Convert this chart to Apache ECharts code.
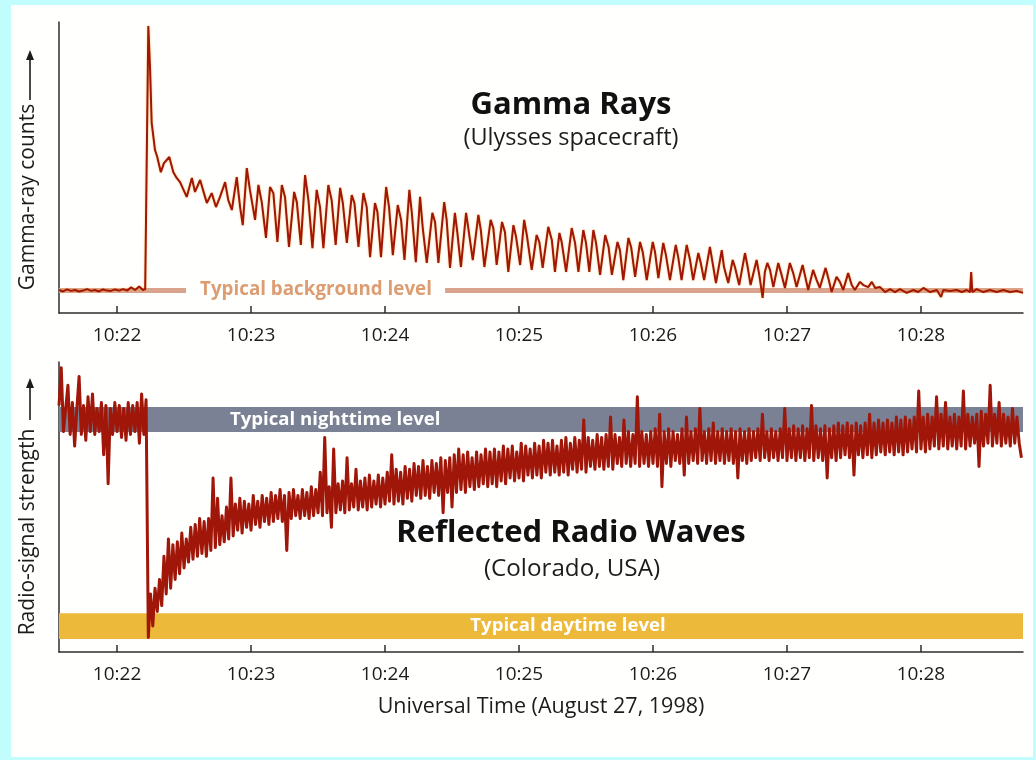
<!DOCTYPE html>
<html>
<head>
<meta charset="utf-8">
<script src="https://cdn.jsdelivr.net/npm/echarts@6/dist/echarts.min.js"></script>
<style>
  html, body { margin: 0; padding: 0; background: #c2fdfd; }
  #sheet { position: absolute; left: 11px; top: 5px; width: 1022px; height: 752px; background: #fffffd; }
  #chart { position: absolute; left: 0; top: 0; width: 1036px; height: 760px; }
</style>
</head>
<body>
<div id="sheet"></div>
<div id="chart"></div>
<script>
// Time is in seconds after 10:21:00 UT, August 27, 1998.
const timeStart = 34;
const timeEnd = 465.7;
const tickMinutes = [22, 23, 24, 25, 26, 27, 28];   // labelled minutes past 10:00

// Ulysses gamma-ray counts (arbitrary units, 0-100), [seconds, counts]
const gammaSamples = [
  [34.0,7.9],[35.8,7.4],[37.6,8.1],[39.4,7.6],[41.2,7.9],[43.0,7.4],[44.8,7.7],[46.6,8.2],[48.4,7.6],[50.1,7.9],
  [51.9,7.4],[53.7,8.1],[55.5,7.7],[57.3,7.6],[59.1,8.1],[60.9,7.7],[62.7,8.2],[64.5,7.7],[66.3,8.8],[68.1,7.9],
  [69.9,9.1],[71.6,7.9],[72.6,8.2],[74.0,98.6],[74.8,83.5],[75.5,65.3],[77.0,56.0],[78.0,53.6],[79.6,48.4],[81.0,51.5],
  [83.4,53.6],[85.2,48.4],[86.7,46.4],[88.2,45.0],[91.2,39.9],[93.5,46.4],[94.9,41.6],[97.2,45.7],[99.4,39.9],[100.2,37.8],
  [102.4,41.2],[104.3,36.4],[106.1,39.9],[108.4,45.0],[109.8,38.8],[111.4,35.4],[113.6,46.7],[115.1,36.4],[116.3,30.2],[118.1,49.8],
  [119.5,42.3],[121.8,32.0],[123.3,44.0],[124.8,38.1],[126.7,25.8],[128.5,43.3],[130.0,41.2],[131.8,24.4],[133.8,44.0],[135.2,39.9],
  [137.0,22.7],[139.3,41.6],[140.5,38.1],[142.3,23.4],[144.2,47.4],[145.7,38.8],[147.5,22.3],[149.4,42.3],[150.9,36.4],[152.4,22.3],
  [154.6,44.0],[156.1,38.8],[157.9,23.4],[159.9,43.0],[161.1,37.8],[162.9,24.1],[165.1,40.5],[166.3,37.8],[168.1,22.7],[170.3,41.2],
  [171.8,36.4],[173.3,19.2],[175.5,37.8],[176.6,34.7],[178.2,19.2],[180.5,43.3],[181.8,36.4],[183.5,19.9],[185.7,37.1],[187.2,32.0],
  [188.7,18.2],[190.9,42.3],[192.0,34.4],[193.8,17.5],[195.7,39.9],[196.9,29.2],[198.7,17.2],[201.2,34.4],[202.4,31.3],[203.9,17.2],
  [206.5,38.1],[207.6,32.0],[209.1,15.5],[211.3,34.4],[212.4,27.5],[214.0,15.8],[216.3,34.4],[217.3,29.2],[219.3,18.2],[221.8,33.7],
  [222.9,28.5],[224.5,15.8],[227.3,32.0],[228.5,29.2],[230.0,16.5],[232.4,31.3],[233.7,27.8],[235.2,14.1],[237.5,30.2],[238.7,26.1],
  [240.5,16.5],[242.3,32.0],[243.5,26.8],[245.7,14.8],[247.9,26.8],[249.1,24.4],[250.6,15.5],[253.1,29.6],[254.7,25.1],[256.1,14.1],
  [258.1,27.5],[259.1,24.4],[261.1,14.1],[263.6,29.2],[265.1,24.1],[266.6,14.1],[268.8,28.5],[270.0,24.1],[271.5,14.1],[273.3,28.5],
  [274.5,24.1],[276.3,13.1],[278.6,26.8],[280.1,22.7],[281.6,13.1],[284.1,24.4],[285.2,21.6],[286.7,11.3],[289.0,25.8],[290.2,22.7],
  [292.0,12.4],[294.2,24.4],[295.4,21.0],[297.2,11.3],[299.9,24.4],[300.9,21.0],[302.4,12.0],[304.6,24.1],[305.8,19.9],[307.6,11.3],
  [310.2,23.4],[311.3,19.2],[312.8,11.3],[315.1,23.4],[316.6,18.2],[318.0,11.3],[320.3,20.6],[321.4,17.2],[322.9,11.3],[325.5,22.7],
  [326.7,17.2],[328.2,10.3],[330.8,21.6],[331.8,15.8],[333.7,10.3],[335.7,18.2],[336.7,15.8],[338.6,9.6],[341.2,20.6],[342.4,15.8],
  [343.7,9.6],[346.4,18.2],[347.6,13.1],[349.1,5.2],[350.1,14.1],[351.2,17.2],[352.4,14.8],[353.9,8.9],[356.1,17.2],[357.6,13.1],
  [359.1,8.6],[361.3,17.2],[362.8,13.7],[364.3,8.9],[367.0,16.5],[368.0,13.1],[369.5,7.9],[371.7,14.8],[373.3,11.3],[374.7,8.6],
  [377.3,15.5],[378.5,12.0],[380.0,7.2],[382.2,12.4],[383.7,10.7],[385.2,7.9],[387.4,13.7],[389.0,9.6],[390.4,7.9],[392.7,10.7],
  [394.2,9.6],[396.4,8.9],[398.0,10.7],[399.5,8.6],[401.7,8.9],[403.9,7.2],[406.2,8.2],[408.4,7.2],[410.6,8.2],[413.6,6.9],
  [416.6,7.9],[418.8,7.2],[421.1,8.6],[424.1,7.2],[427.1,7.9],[429.0,5.5],[430.0,7.9],[433.0,7.6],[436.0,7.9],[438.3,7.2],
  [440.5,7.9],[442.0,7.2],[442.5,14.1],[443.0,7.2],[445.0,8.2],[447.9,7.2],[450.9,7.9],[453.9,7.2],[456.9,7.9],[459.9,7.2],
  [462.9,7.6],[465.7,6.9]
];
const backgroundLevel = 7.9;
const backgroundGap = [90.9, 206.9];   // where the level line breaks for its caption

// Reflected radio signal strength (arbitrary units, 0-100), one reading per second from radioStart
const radioStart = 34;
const radioStep = 1;
const radioStrength = [
  85, 98, 76, 84, 92, 75, 86, 71, 84, 95,
  75, 85, 73, 88, 76, 89, 75, 84, 76, 86,
  68, 85, 58, 84, 75, 86, 76, 85, 74, 84,
  73, 86, 75, 85, 76, 86, 72, 89, 75, 87,
  5, 20, 9, 22, 14, 25, 16, 33, 20, 39,
  22, 37, 25, 38, 27, 41, 29, 39, 31, 43,
  32, 44, 33, 46, 34, 45, 33, 46, 35, 60,
  36, 53, 37, 47, 38, 50, 39, 60, 40, 51,
  42, 53, 41, 52, 43, 51, 42, 54, 44, 52,
  43, 54, 45, 53, 44, 55, 45, 54, 46, 56,
  45, 54, 35, 55, 46, 56, 47, 54, 46, 56,
  47, 55, 46, 57, 47, 56, 48, 62, 47, 74,
  48, 57, 43, 70, 48, 58, 49, 59, 48, 67,
  49, 58, 50, 63, 49, 59, 50, 60, 49, 61,
  50, 59, 51, 61, 50, 60, 51, 62, 52, 68,
  51, 63, 52, 62, 51, 64, 53, 63, 52, 65,
  54, 64, 53, 66, 54, 64, 53, 66, 55, 65,
  54, 67, 48, 66, 55, 67, 50, 68, 55, 70,
  56, 68, 55, 69, 57, 67, 56, 69, 57, 68,
  58, 70, 57, 69, 58, 70, 57, 69, 59, 71,
  58, 70, 60, 71, 59, 69, 60, 72, 59, 71,
  61, 70, 60, 72, 61, 71, 60, 73, 62, 72,
  61, 73, 62, 71, 61, 73, 62, 74, 61, 72,
  63, 74, 62, 73, 63, 80, 62, 74, 64, 73,
  63, 75, 64, 74, 63, 75, 64, 81, 63, 75,
  65, 74, 64, 80, 65, 76, 64, 75, 65, 88,
  64, 76, 65, 75, 64, 76, 65, 77, 64, 82,
  57, 76, 65, 77, 64, 76, 66, 75, 65, 77,
  61, 81, 65, 76, 66, 77, 65, 84, 66, 76,
  65, 77, 66, 79, 65, 76, 66, 77, 65, 76,
  66, 77, 65, 76, 60, 77, 66, 76, 65, 77,
  66, 76, 67, 77, 66, 82, 67, 76, 66, 77,
  67, 76, 66, 77, 67, 84, 66, 77, 67, 78,
  66, 77, 67, 78, 66, 77, 67, 85, 66, 78,
  67, 77, 66, 78, 60, 77, 67, 78, 66, 79,
  67, 78, 68, 79, 67, 78, 61, 79, 68, 78,
  67, 79, 68, 82, 67, 79, 68, 80, 69, 79,
  68, 80, 69, 79, 68, 81, 69, 80, 68, 81,
  69, 80, 70, 81, 69, 90, 70, 81, 69, 82,
  70, 81, 71, 88, 70, 82, 71, 86, 70, 81,
  71, 82, 70, 81, 71, 90, 70, 82, 71, 81,
  72, 82, 64, 83, 71, 82, 72, 92, 71, 82,
  72, 86, 71, 82, 72, 81, 71, 84, 72, 81,
  72, 67
];
const nightLevel = [75.9, 84.5];
const dayLevel = [4.5, 13.4];

const FONT = '"Open Sans", "DejaVu Sans", sans-serif';
const INK = '#1c1c1c';
const AXIS = '#2e2e2e';
const TRACE = '#a01609';

const tickSeconds = tickMinutes.map(m => (m - 21) * 60);
const radioData = radioStrength.map((v, i) => [radioStart + i * radioStep, v]);

function timeAxis(gridIndex) {
  return {
    type: 'value', gridIndex, min: timeStart, max: timeEnd,
    axisLine: { show: true, onZero: false, lineStyle: { color: AXIS, width: 1.5 } },
    axisTick: { show: true, inside: true, length: 7, customValues: tickSeconds,
                lineStyle: { color: AXIS, width: 1.5 } },
    axisLabel: { customValues: tickSeconds, margin: 13, fontSize: 19, color: INK, fontFamily: FONT,
                 formatter: v => '10:' + (21 + Math.round(v / 60)) },
    splitLine: { show: false }
  };
}
function levelAxis(gridIndex) {
  return {
    type: 'value', gridIndex, min: 0, max: 100,
    axisLine: { show: true, onZero: false, lineStyle: { color: AXIS, width: 1.5 } },
    axisTick: { show: false }, axisLabel: { show: false }, splitLine: { show: false }
  };
}

// rotated axis caption followed by an upward arrow
function sideCaption(text, centerY, arrowTail, arrowTip) {
  return [
    { type: 'text', x: 28, y: centerY, rotation: Math.PI / 2,
      style: { text, fill: INK, font: '21px ' + FONT, textAlign: 'center', textVerticalAlign: 'middle' } },
    { type: 'line', shape: { x1: 30, y1: arrowTail, x2: 30, y2: arrowTip + 8 },
      style: { stroke: INK, lineWidth: 1.6 } },
    { type: 'polygon', shape: { points: [[30, arrowTip], [26, arrowTip + 10], [34, arrowTip + 10]] },
      style: { fill: INK } }
  ];
}

const levelCaption = { show: true, color: '#ffffff', fontWeight: 'bold', fontSize: 18.6, fontFamily: FONT };

const chart = echarts.init(document.getElementById('chart'), null, { renderer: 'canvas' });
chart.setOption({
  animation: false,
  backgroundColor: 'transparent',
  grid: [
    { left: 59, top: 22, width: 964, height: 291 },
    { left: 59, top: 362, width: 964, height: 290 }
  ],
  xAxis: [
    timeAxis(0),
    Object.assign(timeAxis(1), {
      name: 'Universal Time (August 27, 1998)', nameLocation: 'middle', nameGap: 44,
      nameTextStyle: { fontSize: 21.5, color: INK, fontFamily: FONT }
    })
  ],
  yAxis: [levelAxis(0), levelAxis(1)],
  graphic: [
    { type: 'text', x: 571, y: 105, style: { text: 'Gamma Rays', fill: '#111', font: 'bold 31px ' + FONT, textAlign: 'center', textVerticalAlign: 'middle' } },
    { type: 'text', x: 571, y: 138, style: { text: '(Ulysses spacecraft)', fill: INK, font: '23.5px ' + FONT, textAlign: 'center', textVerticalAlign: 'middle' } },
    { type: 'text', x: 571, y: 533, style: { text: 'Reflected Radio Waves', fill: '#111', font: 'bold 31px ' + FONT, textAlign: 'center', textVerticalAlign: 'middle' } },
    { type: 'text', x: 572, y: 569, style: { text: '(Colorado, USA)', fill: INK, font: '24.2px ' + FONT, textAlign: 'center', textVerticalAlign: 'middle' } }
  ].concat(
    sideCaption('Gamma-ray counts', 197, 100, 50),
    sideCaption('Radio-signal strength', 532, 420, 378)
  ),
  series: [
    {
      // typical background level for the gamma detector
      type: 'line', xAxisIndex: 0, yAxisIndex: 0, data: [], z: 1, silent: true,
      markLine: {
        silent: true, z: 1, symbol: ['none', 'none'], animation: false,
        lineStyle: { color: '#d9a38e', width: 5, type: 'solid', opacity: 1 },
        label: { show: false },
        data: [
          [ { coord: [timeStart, backgroundLevel],
              label: { show: true, position: 'end', distance: 14, formatter: 'Typical background level',
                       color: '#dd9d72', fontWeight: 'bold', fontSize: 18.8, fontFamily: FONT } },
            { coord: [backgroundGap[0], backgroundLevel] } ],
          [ { coord: [backgroundGap[1], backgroundLevel] }, { coord: [timeEnd, backgroundLevel] } ]
        ]
      }
    },
    {
      type: 'line', name: 'Gamma-ray counts', xAxisIndex: 0, yAxisIndex: 0, z: 4,
      data: gammaSamples, showSymbol: false, symbol: 'none',
      lineStyle: { color: TRACE, width: 2, shadowColor: 'rgba(245,170,40,0.75)', shadowBlur: 2 }
    },
    {
      // typical nighttime and daytime radio levels
      type: 'line', xAxisIndex: 1, yAxisIndex: 1, data: [], z: 1, silent: true,
      markArea: {
        silent: true, z: 1,
        data: [
          [ { yAxis: nightLevel[0], itemStyle: { color: '#7b8194' },
              label: Object.assign({ position: [171, '50%'], verticalAlign: 'middle', formatter: 'Typical nighttime level' }, levelCaption) },
            { yAxis: nightLevel[1] } ],
          [ { yAxis: dayLevel[0], itemStyle: { color: '#ecb93a' },
              label: Object.assign({ position: [509, '50%'], align: 'center', verticalAlign: 'middle', formatter: 'Typical daytime level' }, levelCaption) },
            { yAxis: dayLevel[1] } ]
        ]
      }
    },
    {
      type: 'line', name: 'Radio-signal strength', xAxisIndex: 1, yAxisIndex: 1, z: 4,
      data: radioData, showSymbol: false, symbol: 'none',
      lineStyle: { color: TRACE, width: 3, join: 'round' }
    }
  ]
});
</script>
</body>
</html>
